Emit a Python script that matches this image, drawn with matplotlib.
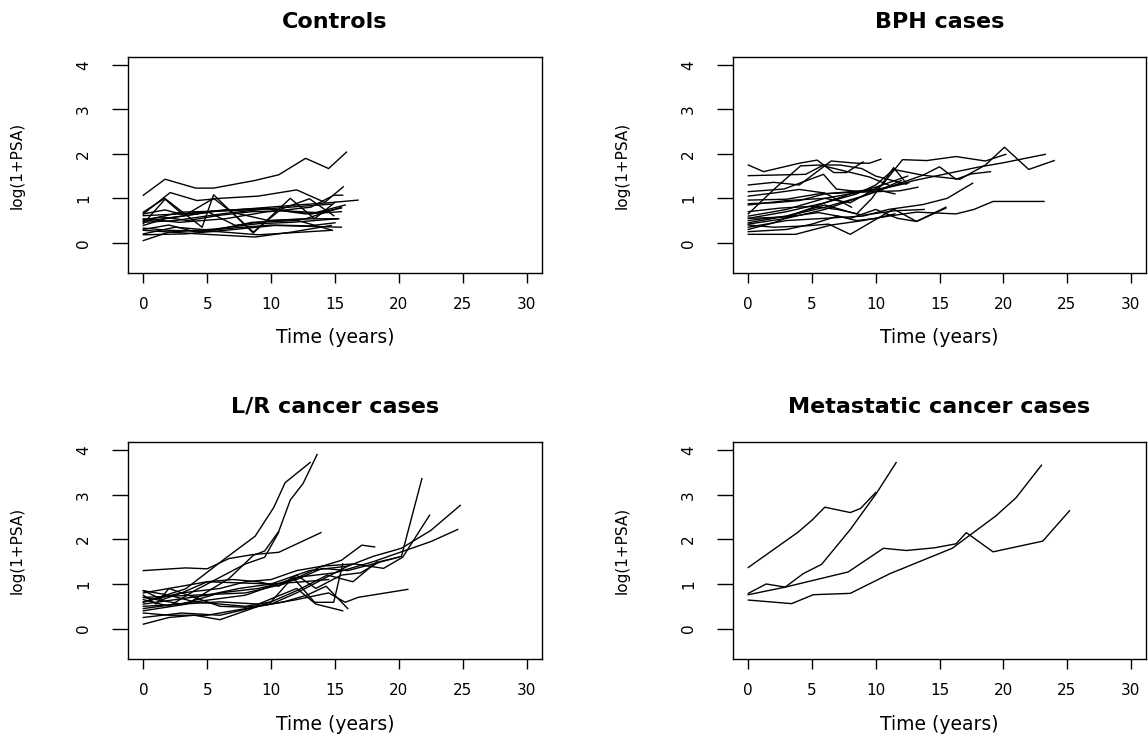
import numpy as np
from matplotlib import pyplot as plt

# ---------------------------------------------------------------------------
# log(1+PSA) trajectories: each entry is (times, values)
# ---------------------------------------------------------------------------
controls = [
    ([0, 1.7, 4.1, 5.5, 8.7, 10.6, 12.7, 14.5, 15.9], [1.07, 1.43, 1.23, 1.23, 1.40, 1.53, 1.90, 1.67, 2.04]),
    ([0, 2.1, 4.2, 6, 9, 12.0, 14.2, 15.65], [0.65, 1.13, 0.95, 1.0, 1.05, 1.19, 0.91, 1.26]),
    ([0, 3, 6, 9, 12, 14.5, 16.8], [0.48, 0.6, 0.72, 0.78, 0.85, 0.9, 0.96]),
    ([0, 1.67, 4.6, 5.5, 8.6, 11.5, 13.4, 15], [0.69, 1.0, 0.35, 1.08, 0.22, 1.0, 0.54, 0.91]),
    ([0, 1.7, 3.0, 6.7, 8.6, 10.8, 13, 14.9], [0.65, 0.74, 0.64, 0.75, 0.24, 0.76, 0.99, 0.61]),
    ([0, 1.7, 3.2, 5.5, 6.9, 9.8, 12.7, 15.5], [0.43, 0.98, 0.61, 1.0, 0.69, 0.5, 0.54, 0.8]),
    ([0, 2, 5.6, 9, 11.6, 15.2], [0.05, 0.24, 0.31, 0.43, 0.46, 0.54]),
    ([0, 4.3, 8.75, 11.6, 14.7], [0.28, 0.2, 0.13, 0.24, 0.39]),
    ([0, 2, 5.9, 9, 14.7], [0.33, 0.28, 0.25, 0.18, 0.28]),
    ([0, 3.3, 6.4, 10.3, 15.5], [0.18, 0.2, 0.28, 0.39, 0.35]),
    ([0, 3, 6.7, 9.8, 12.7, 15.5], [0.5, 0.69, 0.72, 0.76, 0.65, 0.7]),
    ([0, 2.8, 6.4, 9.5, 13.1, 14.9, 15.6], [0.54, 0.46, 0.54, 0.69, 0.8, 1.07, 1.07]),
    ([0, 1.7, 5.1, 7.2, 10, 13.2, 15.3], [0.39, 0.54, 0.69, 0.39, 0.5, 0.54, 0.54]),
    ([0, 2.5, 5.4, 8.5, 12.1, 14.8], [0.2, 0.35, 0.28, 0.46, 0.5, 0.28]),
    ([0, 3, 5.9, 9.5, 13.2, 15.5], [0.61, 0.65, 0.72, 0.78, 0.65, 0.78]),
    ([0, 2.5, 6.1, 9.5, 14.7], [0.46, 0.5, 0.65, 0.76, 0.87]),
    ([0, 2, 4, 7, 10, 13, 15], [0.3, 0.4, 0.25, 0.33, 0.4, 0.38, 0.45]),
    ([0, 1.5, 3.5, 6, 8.5, 11, 13.5, 15.8], [0.52, 0.58, 0.5, 0.62, 0.7, 0.72, 0.68, 0.85]),
]

bph = [
    ([0, 1.2, 4, 5.4, 6.7, 7.7, 9], [1.75, 1.6, 1.79, 1.86, 1.58, 1.58, 1.82]),
    ([0, 4.5, 5.9, 7.2, 8.9, 10, 12.4], [1.51, 1.54, 1.75, 1.75, 1.67, 1.5, 1.32]),
    ([0, 2, 4, 6.5, 8.5, 9.5, 10.4], [1.3, 1.36, 1.3, 1.84, 1.79, 1.79, 1.88]),
    ([0, 2.8, 5.9, 6.9, 8.7, 10.2, 12.6], [1.15, 1.21, 1.54, 1.21, 1.15, 1.2, 1.35]),
    ([0, 3, 6, 8.5, 10, 11.4, 13.7, 16.6, 18.6, 20.1, 22, 24], [0.55, 0.7, 0.9, 1.1, 1.3, 1.65, 1.52, 1.43, 1.75, 2.15, 1.65, 1.85]),
    ([0, 3, 6, 9, 11, 13, 15.5, 18, 20, 23.3], [0.45, 0.6, 0.8, 1.05, 1.25, 1.4, 1.55, 1.7, 1.8, 1.99]),
    ([0, 3.7, 6.5, 9, 11, 13.2, 16.3, 17.7, 19.2, 23.2], [0.19, 0.19, 0.4, 0.5, 0.6, 0.69, 0.65, 0.75, 0.93, 0.93]),
    ([0, 2, 4.5, 6.3, 8, 11.4, 13.2, 15.5], [0.4, 0.35, 0.38, 0.42, 0.19, 0.76, 0.48, 0.8]),
    ([0, 3, 6, 8.5, 9.7, 11.4, 12.4], [0.5, 0.6, 0.85, 0.65, 1.0, 1.69, 1.34]),
    ([0, 3, 6, 8, 10.5, 12.1, 14, 16.3, 18.6, 20.2], [0.85, 0.95, 1.0, 0.9, 1.3, 1.87, 1.85, 1.94, 1.84, 1.99]),
    ([0, 3, 6, 9, 11, 13.7, 15, 16.3, 17.5, 19], [0.6, 0.75, 1.0, 1.15, 1.25, 1.52, 1.71, 1.43, 1.55, 1.6]),
    ([0, 3, 6, 9, 11, 13.7, 15.6, 17.6], [0.35, 0.5, 0.55, 0.6, 0.75, 0.86, 1.0, 1.34]),
    ([0, 3, 5.5, 8, 10, 11.9, 13.3], [0.96, 0.98, 1.1, 1.13, 1.15, 1.17, 1.25]),
    ([0, 2.5, 5, 7, 9, 11.5, 13.8], [0.7, 0.78, 0.82, 0.75, 0.62, 0.72, 0.75]),
    ([0, 3, 5.5, 8, 10, 11.7, 13.2, 15.5], [0.55, 0.58, 0.68, 0.55, 0.75, 0.55, 0.48, 0.78]),
    ([0, 2, 4.1, 5.6, 7.5, 9.5, 11], [0.65, 1.2, 1.73, 1.75, 1.62, 1.48, 1.3]),
    ([0, 3, 6, 8, 10, 12], [0.42, 0.55, 0.75, 0.95, 1.15, 1.4]),
    ([0, 2, 4, 6, 8, 10, 12.5], [0.3, 0.45, 0.68, 0.9, 1.1, 1.25, 1.5]),
    ([0, 3, 5, 7, 8.5, 10, 11.5], [0.25, 0.3, 0.42, 0.6, 0.5, 0.55, 0.65]),
    ([0, 2, 4, 6, 8.1], [1.05, 1.12, 1.2, 1.12, 0.8]),
    ([0, 2, 4, 6, 8, 10, 11.5], [0.88, 0.9, 0.95, 1.1, 1.15, 1.2, 1.1]),
]

lr_cancer = [
    ([0, 3.3, 6.4, 8.75, 10.2, 11.1, 13.05], [0.59, 0.89, 1.57, 2.07, 2.71, 3.27, 3.72]),
    ([0, 3.4, 6.7, 8.6, 9.5, 10.6, 11.5, 12.5, 13.6], [0.4, 0.55, 1.12, 1.64, 1.74, 2.18, 2.88, 3.25, 3.9]),
    ([0, 3.3, 5, 6.7, 8.6, 10.6, 13.9], [1.3, 1.36, 1.34, 1.57, 1.66, 1.71, 2.15]),
    ([0, 2, 4, 6, 8, 9.5, 10.6], [0.65, 0.5, 0.85, 1.15, 1.45, 1.6, 2.16]),
    ([0, 3, 6, 9, 12, 14, 16, 18, 20.2, 21.8], [0.5, 0.55, 0.8, 0.9, 1.1, 1.35, 1.3, 1.45, 1.62, 3.36]),
    ([0, 4, 8, 11, 14, 16.5, 18.8, 20.3, 22.4], [0.7, 0.75, 0.8, 1.0, 1.4, 1.45, 1.35, 1.6, 2.54]),
    ([0, 5, 10, 13, 16, 18, 20.2, 22.5, 24.8], [0.8, 1.05, 1.0, 1.3, 1.4, 1.62, 1.8, 2.2, 2.76]),
    ([0, 4, 8, 12, 15, 18, 20, 22.5, 24.6], [0.45, 0.6, 0.75, 1.15, 1.25, 1.5, 1.7, 1.95, 2.22]),
    ([0, 3, 6, 8, 10, 12, 14, 15.5, 17.1, 18.1], [0.6, 0.8, 0.9, 1.05, 1.1, 1.3, 1.4, 1.53, 1.87, 1.83]),
    ([0, 3, 6, 9, 12, 14.5, 15.8, 16.8, 20.7], [0.25, 0.35, 0.3, 0.5, 0.65, 0.8, 0.59, 0.7, 0.88]),
    ([0, 3, 6, 9, 12, 13.5, 15.6], [0.7, 0.55, 0.6, 0.55, 0.9, 0.55, 0.4]),
    ([0, 2, 4, 6, 8, 10, 11.7, 13.4, 14.9, 15.6], [0.85, 0.75, 0.6, 0.55, 0.5, 0.6, 1.15, 0.59, 0.59, 1.45]),
    ([0, 1, 2, 4, 6, 8, 10, 12, 14, 16], [0.75, 0.55, 0.9, 0.7, 0.5, 0.48, 0.55, 0.8, 1.1, 1.4]),
    ([0, 1.5, 3, 5, 7, 9, 10.6, 12, 13.5, 15.5, 17, 18.5, 20], [0.85, 0.65, 0.8, 1.05, 1.1, 1.05, 0.95, 1.2, 0.9, 1.2, 1.25, 1.5, 1.6]),
    ([0, 2, 4, 6, 8, 10, 12, 14.4, 16.4, 18.3], [0.1, 0.25, 0.3, 0.2, 0.4, 0.6, 0.85, 1.2, 1.05, 1.5]),
    ([0, 2, 5, 8, 11, 12.8, 14.3, 16], [0.35, 0.3, 0.3, 0.45, 0.6, 0.75, 0.95, 0.45]),
    ([0, 2.5, 5, 7.5, 10, 12.5, 14.5], [0.55, 0.65, 0.75, 0.9, 1.0, 1.05, 1.1]),
]

metastatic = [
    ([0, 3.9, 5, 6, 8, 8.8, 10], [1.37, 2.16, 2.43, 2.72, 2.6, 2.69, 3.05]),
    ([0, 1.4, 2.9, 4.3, 5.75, 8, 10.05, 11.6], [0.79, 1.0, 0.93, 1.23, 1.44, 2.22, 3.03, 3.72]),
    ([0, 2.9, 7.84, 10.6, 12.4, 14.6, 16.3, 17.1, 19.2, 23.1, 25.2], [0.76, 0.93, 1.27, 1.8, 1.75, 1.81, 1.9, 2.15, 1.72, 1.96, 2.64]),
    ([0, 3.4, 5.1, 8, 11.1, 16, 19.4, 21, 23], [0.64, 0.56, 0.76, 0.79, 1.23, 1.8, 2.52, 2.93, 3.66]),
]

titles = ['Controls', 'BPH cases', 'L/R cancer cases', 'Metastatic cancer cases']
groups = [controls, bph, lr_cancer, metastatic]
x_ticks = [0, 5, 10, 15, 20, 25, 30]
y_ticks = [0, 1, 2, 3, 4]

plt.rcParams['font.family'] = ['DejaVu Sans']

fig = plt.figure(figsize=(11.48, 7.36), dpi=100)
# axes rectangles in figure fractions (left, bottom, width, height)
rects = [
    (128/1148, 1 - 273/736, 414/1148, 216/736),
    (733/1148, 1 - 273/736, 413/1148, 216/736),
    (128/1148, 1 - 659/736, 414/1148, 217/736),
    (733/1148, 1 - 659/736, 413/1148, 217/736),
]

for rect, title, group in zip(rects, titles, groups):
    ax = fig.add_axes(rect)
    for t, y in group:
        ax.plot(t, y, color='black', linewidth=1.0)
    ax.set_xlim(-1.2, 31.2)
    ax.set_ylim(-0.68, 4.18)
    ax.set_xticks(x_ticks)
    ax.set_yticks(y_ticks)
    ax.tick_params(axis='x', direction='out', length=7, width=1, pad=10, labelsize=11)
    ax.tick_params(axis='y', direction='out', length=11.5, width=1, pad=15, labelsize=11)
    for lab in ax.get_yticklabels():
        lab.set_rotation(90)
        lab.set_va('center')
    for s in ax.spines.values():
        s.set_linewidth(1.0)
    ax.set_xlabel('Time (years)', fontsize=13.5, va='center')
    ax.set_ylabel('log(1+PSA)', fontsize=11, va='center')
    ax.xaxis.set_label_coords(0.5, -0.3)
    ax.yaxis.set_label_coords(-0.268, 0.5)
    ax.set_title(title, fontsize=16, fontweight='bold', y=1 + 35/216, va='center', pad=0)

fig.savefig('out.png', dpi=100)
